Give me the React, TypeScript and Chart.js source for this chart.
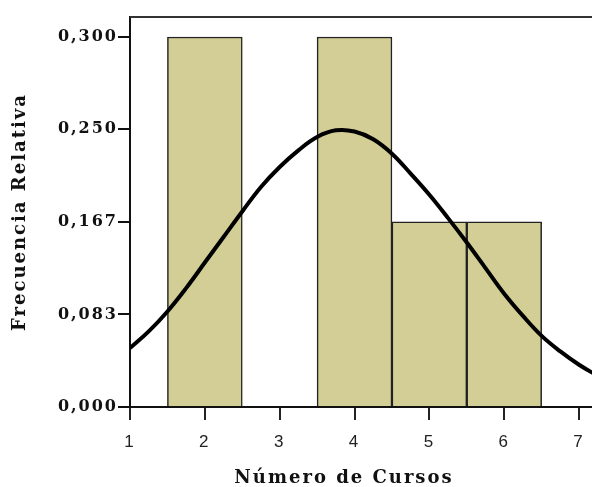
import React, { useEffect, useRef } from "react";
import { Chart, registerables } from "chart.js";

Chart.register(...registerables);

// Histogram bins (centers) and relative frequencies
const binCenters = [2, 4, 5, 6];
const relFreq = [0.333, 0.333, 0.1667, 0.1667];

// Normal curve
const curveX = [1, 1.25, 1.5, 1.75, 2, 2.25, 2.5, 2.75, 3, 3.25, 3.5, 3.75, 4, 4.25, 4.5, 4.75, 5, 5.25, 5.5, 5.75, 6, 6.25, 6.5, 6.75, 7, 7.25];
const curveY = [0.053, 0.068, 0.086, 0.107, 0.13, 0.153, 0.176, 0.198, 0.216, 0.231, 0.243, 0.249, 0.248, 0.241, 0.228, 0.21, 0.191, 0.17, 0.148, 0.125, 0.102, 0.082, 0.064, 0.05, 0.038, 0.028];

// Axis ticks
const xTicks = [1, 2, 3, 4, 5, 6, 7];
const yTickValues = [0, 0.0833, 0.1667, 0.25, 0.333];
const yTickLabels = ["0,000", "0,083", "0,167", "0,250", "0,300"];

const xTitle = "Número de Cursos";
const yTitle = "Frecuencia Relativa";

const frame = {
  id: "frame",
  beforeDraw(chart: any) {
    chart.ctx.letterSpacing = "2px";
  },
  afterDatasetsDraw(chart: any) {
    const { ctx, chartArea } = chart;
    ctx.save();
    ctx.strokeStyle = "#333";
    ctx.lineWidth = 2;
    ctx.beginPath();
    ctx.moveTo(chartArea.left, chartArea.top);
    ctx.lineTo(chartArea.right, chartArea.top);
    ctx.stroke();
    ctx.restore();
  },
  afterDraw(chart: any) {
    const { ctx, chartArea } = chart;
    ctx.save();
    ctx.letterSpacing = "2px";
    ctx.fillStyle = "#111";
    ctx.font = "bold 18px 'DejaVu Serif'";
    ctx.textAlign = "center";
    ctx.textBaseline = "middle";
    ctx.fillText(xTitle, chartArea.left + 214, 478);
    ctx.restore();
  },
};

export default function App() {
  const ref = useRef<HTMLCanvasElement>(null);
  useEffect(() => {
    if (!ref.current) return;
    const chart = new Chart(ref.current, {
      type: "bar",
      data: {
        datasets: [
          {
            type: "line",
            data: curveX.map((x, i) => ({ x, y: curveY[i] })),
            borderColor: "#000",
            borderWidth: 4,
            pointRadius: 0,
            tension: 0.4,
            fill: false,
            order: 0,
          } as any,
          {
            type: "bar",
            data: binCenters.map((x, i) => ({ x, y: relFreq[i] })),
            backgroundColor: "#d3ce96",
            borderColor: "#222",
            borderWidth: 1.5,
            barPercentage: 1,
            categoryPercentage: 1,
            order: 1,
          } as any,
        ],
      },
      options: {
        animation: false,
        responsive: false,
        events: [],
        layout: { padding: { top: 17, right: 3, left: 0, bottom: 0 } },
        plugins: { legend: { display: false }, tooltip: { enabled: false } },
        scales: {
          x: {
            type: "linear",
            min: 1,
            max: 7.4,
            offset: false,
            afterBuildTicks: (s: any) => {
              s.ticks = xTicks.map((v) => ({ value: v }));
            },
            afterFit: (s: any) => {
              s.height = 80;
            },
            grid: {
              offset: false,
              drawOnChartArea: false,
              tickLength: 13,
              color: "#222",
              lineWidth: 2,
            },
            border: { display: true, color: "#111", width: 2 },
            ticks: {
              color: "#222",
              font: { family: "Liberation Sans", size: 17 },
              padding: 12,
              maxRotation: 0,
              autoSkip: false,
              callback: (v: any) => String(v),
            },
            title: { display: false },
          },
          y: {
            type: "linear",
            min: 0,
            max: 0.351,
            afterBuildTicks: (s: any) => {
              s.ticks = yTickValues.map((v) => ({ value: v }));
            },
            afterFit: (s: any) => {
              s.width = 130;
            },
            grid: {
              drawOnChartArea: false,
              tickLength: 12,
              color: "#111",
              lineWidth: 2,
            },
            border: { display: true, color: "#111", width: 2 },
            ticks: {
              color: "#111",
              font: { family: "DejaVu Serif", size: 16, weight: "bold" },
              padding: 0,
              autoSkip: false,
              callback: (_v: any, i: number) => yTickLabels[i],
            },
            title: {
              display: true,
              text: yTitle,
              color: "#111",
              font: { family: "DejaVu Serif", size: 18, weight: "bold" },
              padding: { top: 10, bottom: 0 },
            },
          },
        },
      },
      plugins: [frame],
    });
    return () => chart.destroy();
  }, []);
  return (
    <div
      style={{
        position: "absolute",
        left: 0,
        top: 0,
        width: 592,
        height: 487,
        overflow: "hidden",
        background: "#fff",
      }}
    >
      <canvas ref={ref} width={612} height={487} style={{ display: "block" }} />
    </div>
  );
}
